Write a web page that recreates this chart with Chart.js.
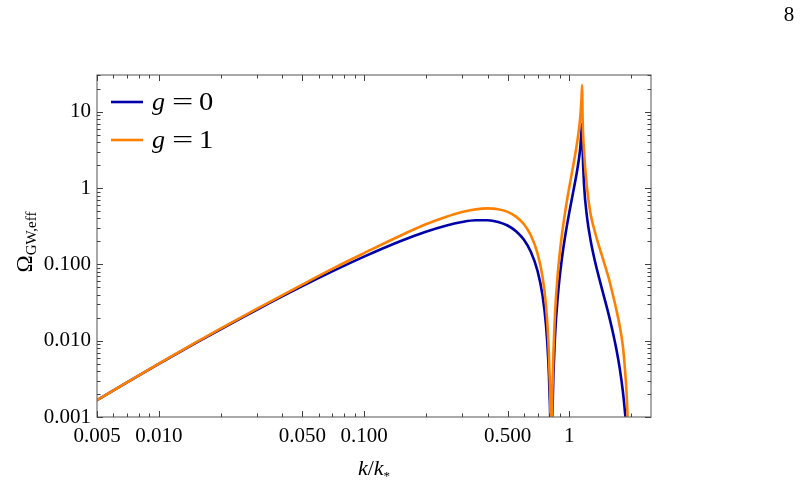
<!DOCTYPE html>
<html>
<head>
<meta charset="utf-8">
<script src="https://cdn.jsdelivr.net/npm/chart.js@4.4.1/dist/chart.umd.min.js"></script>
<style>
  html, body { margin: 0; padding: 0; background: #ffffff; }
  #wrap { position: relative; width: 801px; height: 488px; }
</style>
</head>
<body>
<div id="wrap"><canvas id="c" width="801" height="488"></canvas></div>
<script>
// ---------------- data ----------------
const kValues = [0.0048, 0.005, 0.007, 0.01, 0.015, 0.02, 0.03, 0.05, 0.07, 0.1,
  0.15, 0.2, 0.25, 0.3, 0.35, 0.4, 0.45, 0.5, 0.55, 0.6,
  0.65, 0.7, 0.74, 0.77, 0.79, 0.80, 0.81, 0.8165, 0.823, 0.83,
  0.85, 0.88, 0.92, 0.96, 1.0, 1.04, 1.08, 1.11, 1.13, 1.145,
  1.1547, 1.158, 1.16, 1.18, 1.22, 1.27, 1.33, 1.40, 1.47, 1.55,
  1.62, 1.70, 1.76, 1.82, 1.86, 1.90, 1.95];

const omegaG0 = [0.00156, 0.00166, 0.00284, 0.00496, 0.00921, 0.01413, 0.02545, 0.05184, 0.08095, 0.1266,
  0.2015, 0.2683, 0.3222, 0.3599, 0.3792, 0.3793, 0.3602, 0.3238, 0.2728, 0.2114,
  0.1454, 0.0822, 0.03962, 0.01589, 0.005449, 0.002169, 0.000346, 0.000001, 0.000357, 0.001576,
  0.01024, 0.03995, 0.1188, 0.2577, 0.4822, 0.8394, 1.4405, 2.265, 3.347, 5.383,
  7.0, 4.74, 3.571, 1.090, 0.4148, 0.2063, 0.1134, 0.0648, 0.03937, 0.02283,
  0.01381, 0.00745, 0.004343, 0.002258, 0.00129, 0.000625, 0.0001];

const omegaG1 = [0.00156, 0.00166, 0.00285, 0.00501, 0.00935, 0.01441, 0.02621, 0.05443, 0.08743, 0.1405,
  0.2378, 0.3354, 0.4189, 0.4859, 0.5271, 0.5424, 0.5295, 0.4889, 0.4228, 0.3382,
  0.2399, 0.1397, 0.06934, 0.0286, 0.01008, 0.004013, 0.000657, 0.000001, 0.000678, 0.002994,
  0.01997, 0.0799, 0.2435, 0.5412, 1.037, 1.847, 3.313, 5.436, 8.37, 14.0,
  22.4, 12.9, 9.0, 3.0, 1.0, 0.4539, 0.2722, 0.1685, 0.1102, 0.06849,
  0.04281, 0.02459, 0.01563, 0.008806, 0.00477, 0.0021, 0.0004];

const seriesNames = ['g', 'g'];
const seriesValuesText = ['0', '1'];
const seriesColors = ['#0000AA', '#FF8000'];

const xTickValues = [0.005, 0.01, 0.05, 0.1, 0.5, 1];
const xTickLabels = ['0.005', '0.010', '0.050', '0.100', '0.500', '1'];
const yTickValues = [0.001, 0.01, 0.1, 1, 10];
const yTickLabels = ['0.001', '0.010', '0.100', '1', '10'];

const xMin = 0.005, xMax = 2.5;
const yMin = 0.001, yMax = 30.4;

// ---------------- helpers ----------------
function logTicks(min, max) {
  const out = [];
  for (let e = -4; e <= 2; e++) {
    for (let m = 1; m <= 9; m++) {
      const v = +(m * Math.pow(10, e)).toPrecision(6);
      if (v >= min * 0.9999 && v <= max * 1.0001) out.push(v);
    }
  }
  return out;
}
function isMajor(v, list) { return list.some(t => Math.abs(t - v) / t < 1e-6); }
function labelFor(v, vals, labs) {
  for (let i = 0; i < vals.length; i++) if (Math.abs(vals[i] - v) / vals[i] < 1e-6) return labs[i];
  return '';
}

const FONT = "'Liberation Serif', 'Times New Roman', serif";

const framePlugin = {
  id: 'frameTicks',
  afterDatasetsDraw(chart) {
    const { ctx, chartArea: a, scales } = chart;
    const xs = scales.x, ys = scales.y;
    ctx.save();
    ctx.strokeStyle = '#707070';
    ctx.lineWidth = 1.2;
    ctx.strokeRect(a.left, a.top, a.right - a.left, a.bottom - a.top);
    ctx.strokeStyle = '#404040';
    ctx.lineWidth = 1;
    ctx.beginPath();
    logTicks(xMin, xMax).forEach(v => {
      const px = Math.round(xs.getPixelForValue(v)) + 0.5;
      const len = isMajor(v, xTickValues) ? 6 : 3.5;
      ctx.moveTo(px, a.bottom); ctx.lineTo(px, a.bottom - len);
      ctx.moveTo(px, a.top); ctx.lineTo(px, a.top + len);
    });
    logTicks(yMin, yMax).forEach(v => {
      const py = Math.round(ys.getPixelForValue(v)) + 0.5;
      const len = isMajor(v, yTickValues) ? 6 : 3.5;
      ctx.moveTo(a.left, py); ctx.lineTo(a.left + len, py);
      ctx.moveTo(a.right, py); ctx.lineTo(a.right - len, py);
    });
    ctx.stroke();
    ctx.restore();
  },
  afterDraw(chart) {
    const { ctx, chartArea: a } = chart;
    ctx.save();
    ctx.fillStyle = '#000';
    ctx.textBaseline = 'alphabetic';

    // legend
    const rowY = [102, 140];
    for (let i = 0; i < 2; i++) {
      ctx.strokeStyle = seriesColors[i];
      ctx.lineWidth = 2.6;
      ctx.beginPath();
      ctx.moveTo(111, rowY[i]); ctx.lineTo(143, rowY[i]);
      ctx.stroke();
      const base = rowY[i] + 8;
      ctx.textAlign = 'left';
      ctx.font = "italic 26px " + FONT;
      ctx.fillText(seriesNames[i], 152, base);
      ctx.font = "26px " + FONT;
      ctx.save();
      ctx.translate(172, base);
      ctx.scale(1.45, 1);
      ctx.fillText('=', 0, 0);
      ctx.restore();
      ctx.save();
      ctx.translate(199, base);
      ctx.scale(1.1, 1);
      ctx.fillText(seriesValuesText[i], 0, 0);
      ctx.restore();
    }

    // x-axis title  k/k_*
    {
      const parts = [
        { t: 'k', f: "italic 22px " + FONT, dy: 0 },
        { t: '/', f: "22px " + FONT, dy: 0 },
        { t: 'k', f: "italic 22px " + FONT, dy: 0 },
        { t: '*', f: "13px " + FONT, dy: 5 }
      ];
      let w = 0;
      parts.forEach(p => { ctx.font = p.f; p.w = ctx.measureText(p.t).width; w += p.w; });
      let x = (a.left + a.right) / 2 - w / 2;
      const base = 475;
      ctx.textAlign = 'left';
      parts.forEach(p => { ctx.font = p.f; ctx.fillText(p.t, x, base + p.dy); x += p.w; });
    }

    // y-axis title  Omega_{GW,eff}
    {
      ctx.save();
      ctx.translate(32, 242);
      ctx.rotate(-Math.PI / 2);
      ctx.textAlign = 'left';
      ctx.font = "23px " + FONT;
      const w1 = ctx.measureText('\u03A9').width;
      ctx.font = "15px " + FONT;
      const w2 = ctx.measureText('GW,eff').width;
      let x = -(w1 + w2) / 2;
      ctx.font = "23px " + FONT;
      ctx.fillText('\u03A9', x, 0);
      x += w1;
      ctx.font = "15px " + FONT;
      ctx.fillText('GW,eff', x, 4);
      ctx.restore();
    }

    // page number
    ctx.font = "21px " + FONT;
    ctx.textAlign = 'center';
    ctx.fillText('8', 789, 21);
    ctx.restore();
  }
};

const ctx = document.getElementById('c').getContext('2d');
new Chart(ctx, {
  type: 'line',
  data: {
    datasets: [
      {
        label: 'g = 1',
        data: kValues.map((k, i) => ({ x: k, y: omegaG1[i] })),
        borderColor: seriesColors[1],
        borderWidth: 2.6,
        pointRadius: 0,
        fill: false,
        cubicInterpolationMode: 'monotone',
        order: 0
      },
      {
        label: 'g = 0',
        data: kValues.map((k, i) => ({ x: k, y: omegaG0[i] })),
        borderColor: seriesColors[0],
        borderWidth: 2.6,
        pointRadius: 0,
        fill: false,
        cubicInterpolationMode: 'monotone',
        order: 1
      }
    ]
  },
  options: {
    responsive: false,
    animation: false,
    devicePixelRatio: 1,
    layout: { padding: { left: 0, top: 75, right: 150, bottom: 0 } },
    plugins: { legend: { display: false }, tooltip: { enabled: false } },
    scales: {
      x: {
        type: 'logarithmic',
        min: xMin, max: xMax,
        grid: { display: false, drawTicks: false },
        border: { display: false },
        afterBuildTicks: s => { s.ticks = logTicks(xMin, xMax).map(v => ({ value: v, major: isMajor(v, xTickValues) })); },
        afterFit: s => { s.height = 71; },
        ticks: {
          autoSkip: false, maxRotation: 0, minRotation: 0, padding: 7,
          color: '#000',
          font: { family: FONT, size: 21 },
          callback: v => labelFor(v, xTickValues, xTickLabels)
        }
      },
      y: {
        type: 'logarithmic',
        min: yMin, max: yMax,
        grid: { display: false, drawTicks: false },
        border: { display: false },
        afterBuildTicks: s => { s.ticks = logTicks(yMin, yMax).map(v => ({ value: v, major: isMajor(v, yTickValues) })); },
        afterFit: s => { s.width = 97; },
        ticks: {
          autoSkip: false, padding: 6,
          color: '#000',
          font: { family: FONT, size: 21 },
          callback: v => labelFor(v, yTickValues, yTickLabels)
        }
      }
    }
  },
  plugins: [framePlugin]
});
</script>
</body>
</html>
